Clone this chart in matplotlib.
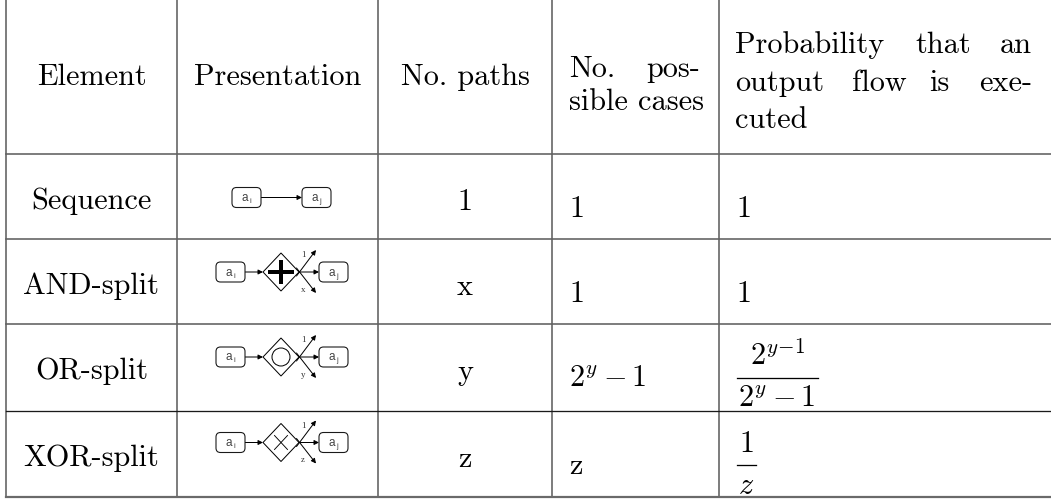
import matplotlib
matplotlib.use("Agg")
import matplotlib.pyplot as plt
from matplotlib.patches import FancyBboxPatch, Polygon, Circle, FancyArrowPatch
from matplotlib.lines import Line2D

plt.rcParams["mathtext.fontset"] = "cm"

# ---------------- data ----------------
header_simple = ["Element", "Presentation", "No. paths"]
header_cases = [["No.", "pos-"], ["sible cases"]]
header_prob = [["Probability", "that", "an"], ["output", "flow", "is", "exe-"], ["cuted"]]

elements = ["Sequence", "AND-split", "OR-split", "XOR-split"]
gateways = [None, "and", "or", "xor"]
branch_labels = [None, "x", "y", "z"]
paths = ["1", "x", "y", "z"]
cases = ["1", "1", r"$2^y-1$", "z"]
prob_num = ["1", "1", r"$2^{y\!-\!1}$", r"$1$"]
prob_den = [None, None, r"$2^y-1$", r"$z$"]
activity_subs = ["i", "j"]

# ---------------- layout ----------------
W, H = 1051, 499
FS = 21.8
FONT = "cmr10"
col_x = [6, 177, 378, 552, 719]
row_top = [154, 239, 324, 411]
bottom = 497
line_col = "#606060"

fig = plt.figure(figsize=(W / 100, H / 100), dpi=100)
ax = fig.add_axes([0, 0, 1, 1])
ax.set_xlim(0, W)
ax.set_ylim(H, 0)
ax.axis("off")

px = 72 / 100  # points per pixel

# grid lines
for x in col_x:
    ax.add_line(Line2D([x, x], [0, bottom], color=line_col, lw=1.6 * px))
for i, y in enumerate(row_top):
    c = "#1a1a1a" if i == 3 else line_col
    w = 1.3 if i == 3 else 1.6
    ax.add_line(Line2D([col_x[0], W], [y, y], color=c, lw=w * px))
ax.add_line(Line2D([col_x[0], W], [bottom, bottom], color="#6a6a6a", lw=2.2 * px))

def txt(x, y, s, ha="center", **kw):
    ax.text(x, y, s, ha=ha, va="baseline", fontsize=FS, family=FONT, color="black", **kw)

# header
for i, h in enumerate(header_simple):
    txt((col_x[i] + col_x[i + 1]) / 2, 85, h)

cases_pos = [[(569, "left"), (700, "right")], [(569, "left")]]
cases_base = [77, 110]
for li, words in enumerate(header_cases):
    for w, (x, ha) in zip(words, cases_pos[li]):
        txt(x, cases_base[li], w, ha=ha)

prob_pos = [[(735, "left"), (915, "left"), (1032, "right")],
            [(735, "left"), (852, "left"), (929, "left"), (1032, "right")],
            [(735, "left")]]
prob_base = [53, 91, 128]
for li, words in enumerate(header_prob):
    for w, (x, ha) in zip(words, prob_pos[li]):
        txt(x, prob_base[li], w, ha=ha)

# body text
fig.canvas.draw()
renderer = fig.canvas.get_renderer()
for r in range(4):
    top = row_top[r]
    txt((col_x[0] + col_x[1]) / 2, top + 55, elements[r])
    txt((col_x[2] + col_x[3]) / 2, top + 56, paths[r])
    txt(569, top + 63, cases[r], ha="left")
    if prob_den[r] is None:
        txt(736, top + 63, prob_num[r], ha="left")
    else:
        bar_y = top + 54
        t_den = ax.text(0, 0, prob_den[r], fontsize=FS, family=FONT)
        t_num = ax.text(0, 0, prob_num[r], fontsize=FS, family=FONT)
        wd = t_den.get_window_extent(renderer).width
        wn = t_num.get_window_extent(renderer).width
        t_den.remove(); t_num.remove()
        bw = max(wd, wn) + 3
        x0 = 737
        xc = x0 + bw / 2
        ax.add_line(Line2D([x0, x0 + bw], [bar_y, bar_y], color="black", lw=1.3 * px))
        txt(xc, bar_y - 13, prob_num[r])
        txt(xc, bar_y + 29, prob_den[r])

# presentation icons
icon_cy = [197.5, 272, 357, 442.5]
box_w, box_h = 29, 20
edge = "#1a1a1a"

def box(x0, cy, sub):
    p = FancyBboxPatch((x0, cy - box_h / 2), box_w, box_h,
                       boxstyle="round,pad=0,rounding_size=4.5",
                       fc="white", ec=edge, lw=1.1 * px, zorder=3)
    ax.add_patch(p)
    xm = x0 + box_w / 2
    ax.text(xm - 1.5, cy + 3.5, "a", ha="center", va="baseline",
            fontsize=8.5, family="Liberation Sans", color="#444444", zorder=4)
    ax.text(xm + 2.6, cy + 5.5, sub, ha="left", va="baseline",
            fontsize=5.5, family="Liberation Sans", color="#444444", zorder=4)

def arrow(p0, p1):
    a = FancyArrowPatch(p0, p1, arrowstyle="-|>", mutation_scale=7,
                        lw=1.0 * px, color="black", shrinkA=0, shrinkB=0, zorder=2)
    ax.add_patch(a)

for r in range(4):
    cy = icon_cy[r]
    g = gateways[r]
    if g is None:
        box(232, cy, activity_subs[0])
        box(302, cy, activity_subs[1])
        arrow((261, cy), (302, cy))
        continue
    box(216, cy, activity_subs[0])
    box(319, cy, activity_subs[1])
    cx, hw, hh = 281, 18, 19
    arrow((245, cy), (cx - hw, cy))
    ax.add_patch(Polygon([(cx - hw, cy), (cx, cy - hh), (cx + hw, cy), (cx, cy + hh)],
                         closed=True, fc="white", ec="black", lw=1.0 * px, zorder=3))
    if g == "and":
        ax.add_line(Line2D([cx - 11, cx + 11], [cy, cy], color="black", lw=4 * px, zorder=4))
        ax.add_line(Line2D([cx, cx], [cy - 10, cy + 10], color="black", lw=4 * px, zorder=4))
    elif g == "or":
        ax.add_patch(Circle((cx, cy), 9, fc="none", ec="black", lw=1.0 * px, zorder=4))
    else:
        ax.add_line(Line2D([cx - 6.5, cx + 6.5], [cy - 7, cy + 7], color="black", lw=0.9 * px, zorder=4))
        ax.add_line(Line2D([cx - 6.5, cx + 6.5], [cy + 7, cy - 7], color="black", lw=0.9 * px, zorder=4))
    vx = cx + hw
    arrow((vx - 2.5, cy + 4), (316, cy - 22))
    arrow((vx - 2.5, cy - 4), (316, cy + 21))
    arrow((vx, cy), (319, cy))
    ax.text(303, cy - 17, "1", ha="center", va="center", fontsize=6.5,
            family="Liberation Serif", color="#333333", zorder=4)
    ax.text(303, cy + 18, branch_labels[r], ha="center", va="center", fontsize=6.5,
            family="Liberation Serif", color="#333333", zorder=4)

fig.savefig("out.png", dpi=100, facecolor="white")
